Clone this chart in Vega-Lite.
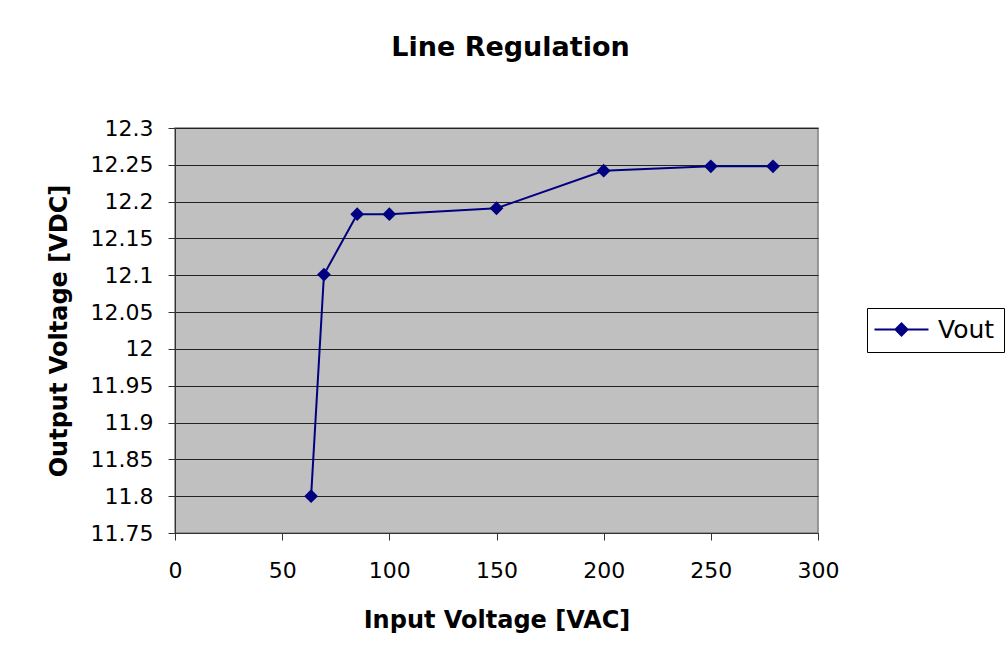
{
  "$schema": "https://vega.github.io/schema/vega-lite/v6.json",
  "autosize": "none",
  "width": 643,
  "height": 405,
  "padding": {"left": 175, "top": 128, "right": 189, "bottom": 129},
  "background": "white",
  "title": {"text": "Line Regulation", "font": "DejaVu Sans", "fontSize": 27, "fontWeight": "bold", "color": "black", "offset": 55, "anchor": "middle", "dx": 14},
  "data": {"values": [
    {"input": 63.5, "vout": 11.8, "series": "Vout"},
    {"input": 69.5, "vout": 12.101, "series": "Vout"},
    {"input": 85, "vout": 12.183, "series": "Vout"},
    {"input": 100, "vout": 12.183, "series": "Vout"},
    {"input": 150, "vout": 12.191, "series": "Vout"},
    {"input": 200, "vout": 12.242, "series": "Vout"},
    {"input": 250, "vout": 12.248, "series": "Vout"},
    {"input": 279, "vout": 12.248, "series": "Vout"}
  ]},
  "mark": {"type": "line", "strokeWidth": 2, "point": {"shape": "diamond", "size": 190, "filled": true, "color": "#000080", "opacity": 1}},
  "encoding": {
    "x": {"field": "input", "type": "quantitative", "scale": {"domain": [0, 300], "nice": false},
      "axis": {"title": "Input Voltage [VAC]", "values": [0, 50, 100, 150, 200, 250, 300], "grid": false, "labelFlush": false, "labelPadding": 20, "titlePadding": 27}},
    "y": {"field": "vout", "type": "quantitative", "scale": {"domain": [11.75, 12.3], "nice": false, "zero": false},
      "axis": {"title": "Output Voltage [VDC]", "values": [11.75, 11.8, 11.85, 11.9, 11.95, 12, 12.05, 12.1, 12.15, 12.2, 12.25, 12.3], "format": "~g", "grid": true, "labelFlush": false, "labelPadding": 15, "titlePadding": 19}},
    "color": {"field": "series", "type": "nominal", "scale": {"range": ["#000080"]},
      "legend": {"title": null, "orient": "none", "legendX": 692, "legendY": 180,
        "symbolType": "M-3,0L3,0M-0.67,0L0,-0.67L0.67,0L0,0.67Z", "symbolSize": 324, "symbolOffset": 13, "labelOffset": 24,
        "padding": 9, "strokeColor": "black", "fillColor": "white", "labelFontSize": 25, "labelFont": "DejaVu Sans", "labelColor": "black",
        "encode": {"symbols": {"update": {"fill": {"value": "#000080"}, "stroke": {"value": "#000080"}, "strokeWidth": {"value": 2}, "opacity": {"value": 1}}}}}}
  },
  "config": {
    "view": {"fill": "#C0C0C0", "stroke": "#808080", "strokeWidth": 1.5},
    "axis": {"labelFont": "DejaVu Sans", "labelFontSize": 22, "labelColor": "black", "titleFont": "DejaVu Sans", "titleFontSize": 24, "titleFontWeight": "bold", "titleColor": "black",
      "domainColor": "#333333", "tickColor": "#333333", "tickSize": 7, "gridColor": "#222222", "gridWidth": 1.2, "gridOpacity": 1, "domain": true}
  }
}
